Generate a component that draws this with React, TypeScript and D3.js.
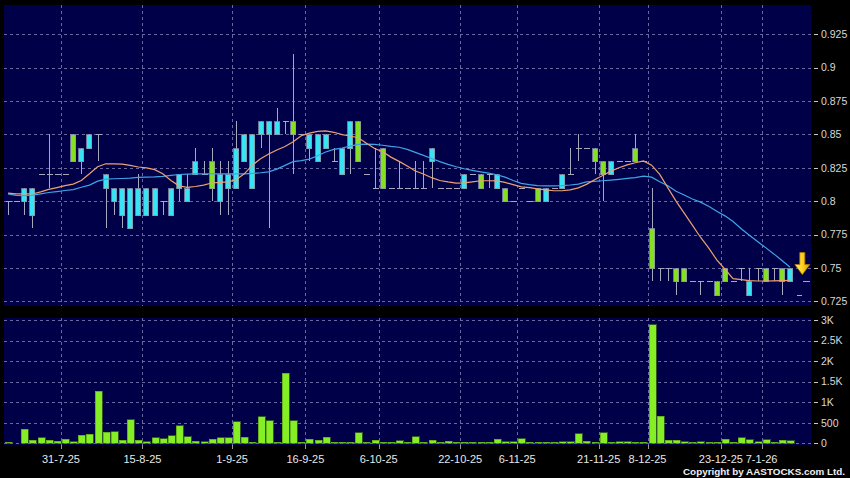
import React from "react";
import * as d3 from "d3";

const OPEN = [0.80,0.80,0.80,0.79,0.82,0.82,0.82,0.82,0.85,0.83,0.84,0.85,0.81,0.80,0.79,0.78,0.79,0.79,0.79,0.80,0.79,0.81,0.80,0.82,0.82,0.83,0.80,0.81,0.81,0.83,0.81,0.85,0.85,0.85,0.86,0.86,0.85,0.84,0.83,0.84,0.83,0.82,0.84,0.86,0.82,0.81,0.84,0.81,0.81,0.81,0.81,0.81,0.83,0.81,0.81,0.81,0.81,0.82,0.82,0.82,0.81,0.81,0.80,0.81,0.80,0.81,0.80,0.81,0.81,0.82,0.84,0.84,0.84,0.83,0.82,0.83,0.83,0.84,0.83,0.78,0.75,0.75,0.75,0.75,0.74,0.74,0.74,0.74,0.75,0.74,0.75,0.73,0.75,0.75,0.75,0.75,0.74];
const HIGH = [0.80,0.80,0.81,0.81,0.82,0.85,0.82,0.82,0.85,0.84,0.85,0.85,0.82,0.81,0.81,0.81,0.82,0.81,0.81,0.80,0.81,0.82,0.82,0.84,0.83,0.84,0.83,0.83,0.86,0.85,0.85,0.86,0.86,0.87,0.86,0.91,0.85,0.85,0.85,0.85,0.84,0.84,0.86,0.86,0.82,0.84,0.84,0.81,0.83,0.81,0.83,0.83,0.84,0.81,0.81,0.81,0.82,0.82,0.82,0.82,0.82,0.81,0.80,0.81,0.80,0.81,0.81,0.81,0.82,0.84,0.85,0.84,0.84,0.83,0.83,0.83,0.83,0.85,0.83,0.81,0.75,0.75,0.75,0.75,0.74,0.74,0.74,0.74,0.75,0.74,0.75,0.75,0.75,0.75,0.75,0.75,0.75];
const LOW = [0.79,0.80,0.79,0.78,0.82,0.81,0.82,0.82,0.83,0.82,0.84,0.83,0.78,0.79,0.78,0.78,0.79,0.79,0.79,0.79,0.79,0.80,0.80,0.82,0.82,0.80,0.79,0.79,0.81,0.83,0.81,0.84,0.78,0.85,0.85,0.82,0.85,0.83,0.83,0.84,0.83,0.82,0.82,0.83,0.82,0.81,0.81,0.81,0.81,0.81,0.81,0.81,0.81,0.81,0.81,0.81,0.81,0.82,0.81,0.81,0.81,0.80,0.80,0.81,0.80,0.80,0.80,0.81,0.81,0.82,0.83,0.84,0.82,0.80,0.82,0.83,0.83,0.83,0.83,0.74,0.74,0.74,0.73,0.74,0.74,0.73,0.74,0.73,0.74,0.74,0.74,0.73,0.74,0.74,0.74,0.73,0.74];
const CLOSE = [0.80,0.80,0.81,0.81,0.82,0.82,0.82,0.82,0.83,0.84,0.85,0.85,0.82,0.81,0.81,0.81,0.81,0.81,0.81,0.80,0.81,0.82,0.81,0.83,0.82,0.81,0.82,0.82,0.84,0.85,0.85,0.86,0.86,0.86,0.86,0.85,0.85,0.85,0.85,0.85,0.83,0.84,0.86,0.83,0.82,0.81,0.81,0.81,0.81,0.81,0.81,0.81,0.84,0.81,0.81,0.81,0.82,0.82,0.81,0.82,0.82,0.80,0.80,0.81,0.80,0.80,0.81,0.81,0.82,0.82,0.84,0.84,0.83,0.82,0.83,0.83,0.83,0.83,0.83,0.75,0.75,0.75,0.74,0.74,0.74,0.74,0.74,0.73,0.74,0.74,0.75,0.74,0.75,0.74,0.75,0.74,0.75];
const VOLUME = [30,0,340,75,130,80,50,100,35,195,220,1270,270,280,80,570,80,35,130,105,185,430,155,55,35,100,130,130,520,145,20,640,545,20,1700,545,5,100,75,145,20,20,5,260,20,80,20,5,65,5,165,15,80,10,50,10,20,5,15,10,100,35,35,105,15,5,15,5,35,35,230,50,15,260,5,35,35,10,10,2880,660,75,75,35,5,40,5,5,100,5,140,90,40,90,5,80,65];
const MA_SHORT = [0.806,0.8055,0.8054,0.8054,0.807,0.8088,0.8102,0.8117,0.8128,0.8155,0.8205,0.8258,0.828,0.828,0.8278,0.8268,0.8256,0.8249,0.8236,0.8205,0.8155,0.8115,0.8104,0.811,0.812,0.8136,0.8141,0.8145,0.816,0.8205,0.827,0.8318,0.8353,0.8383,0.841,0.8445,0.849,0.851,0.8523,0.8526,0.8516,0.8498,0.8488,0.8475,0.8434,0.8395,0.837,0.833,0.8298,0.8263,0.8226,0.8204,0.8176,0.8155,0.8144,0.8135,0.8137,0.8145,0.8153,0.8153,0.8152,0.8141,0.8124,0.8107,0.8102,0.8092,0.8084,0.8078,0.8078,0.8085,0.81,0.8126,0.816,0.8193,0.8225,0.825,0.8272,0.8288,0.8302,0.827,0.82,0.81,0.8,0.791,0.782,0.773,0.765,0.756,0.749,0.742,0.7412,0.7405,0.7402,0.7402,0.7403,0.7405,0.7407];
const MA_LONG = [0.8055,0.8043,0.8041,0.8046,0.8055,0.8065,0.8072,0.808,0.8087,0.8104,0.812,0.815,0.8165,0.8168,0.817,0.8173,0.8178,0.818,0.8182,0.8186,0.8193,0.82,0.8203,0.8204,0.8204,0.8204,0.8204,0.8204,0.8204,0.8204,0.8208,0.8213,0.822,0.824,0.8268,0.8296,0.8304,0.8315,0.834,0.8368,0.8388,0.8398,0.8413,0.8425,0.8428,0.8426,0.8419,0.841,0.8404,0.8388,0.8366,0.8343,0.832,0.8296,0.8276,0.8258,0.8243,0.8231,0.822,0.821,0.8198,0.818,0.8155,0.8133,0.8124,0.8117,0.8114,0.8114,0.8116,0.8121,0.8128,0.8145,0.8149,0.8153,0.8158,0.8164,0.8171,0.8177,0.8188,0.818,0.8146,0.8116,0.8074,0.8046,0.8016,0.7993,0.7962,0.7925,0.789,0.7848,0.7793,0.7745,0.7698,0.7652,0.7605,0.7555,0.7505];
const X_TICK_LABELS = ["31-7-25","15-8-25","1-9-25","16-9-25","6-10-25","22-10-25","6-11-25","21-11-25","8-12-25","23-12-25","7-1-26"];
const X_TICK_INDEX = [7,17,28,37,46,56,63,73,79,88,93];
const PRICE_TICKS = [0.725,0.75,0.775,0.8,0.825,0.85,0.875,0.9,0.925];
const PRICE_TICK_LABELS = ["0.725","0.75","0.775","0.8","0.825","0.85","0.875","0.9","0.925"];
const VOL_TICKS = [0,500,1000,1500,2000,2500,3000];
const VOL_TICK_LABELS = ["0","500","1K","1.5K","2K","2.5K","3K"];

const BG = "#000048";
const GRID = "#6868a0";
const UP = "#38e4f4";
const DOWN = "#86e022";
const WICK = "#a8a8bc";
const FONT = "'Liberation Sans', Arial, sans-serif";

export default function App() {
  const n = CLOSE.length;
  const x = d3.scaleLinear().domain([0, n - 1]).range([8, 790.1]);
  const yP = d3.scaleLinear().domain([0.725, 0.925]).range([301.3, 34.3]);
  const yV = d3.scaleLinear().domain([0, 3000]).range([443.3, 320]);
  const mainL = 4, mainR = 811, mainT = 5, mainB = 306;
  const volT = 318, volB = 445;

  const lineS = d3.line<number>().x((_, i) => x(i)).y((d) => yP(d));
  const crisp = (v: number) => Math.round(v) + 0.5;

  const last = n - 1;
  const ax = x(last + 1.5);
  const tipY = yP(0.745);
  const arrowPath = `M${ax - 2.5},${tipY - 22} L${ax + 2.5},${tipY - 22} L${ax + 2.5},${tipY - 10} L${ax + 7.5},${tipY - 10} L${ax},${tipY} L${ax - 7.5},${tipY - 10} L${ax - 2.5},${tipY - 10} Z`;

  return (
    <svg width={850} height={478} style={{ position: "absolute", left: 0, top: 0, display: "block" }} fontFamily={FONT}>
      <defs>
        <linearGradient id="arr" x1="0" x2="1" y1="0" y2="0">
          <stop offset="0" stopColor="#fff27a" />
          <stop offset="0.5" stopColor="#ffd21e" />
          <stop offset="1" stopColor="#e09a00" />
        </linearGradient>
      </defs>
      <rect x={0} y={0} width={850} height={478} fill="#000" />
      <rect x={mainL} y={mainT} width={mainR - mainL} height={mainB - mainT} fill={BG} />
      <rect x={mainL} y={volT} width={mainR - mainL} height={volB - volT} fill={BG} />

      <g stroke={GRID} strokeWidth={1} strokeDasharray="3,3" shapeRendering="crispEdges">
        {PRICE_TICKS.map((t, i) => (
          <line key={"hp" + i} x1={mainL} x2={mainR} y1={crisp(yP(t))} y2={crisp(yP(t))} />
        ))}
        {X_TICK_INDEX.map((t, i) => (
          <line key={"vp" + i} x1={crisp(x(t - 0.5))} x2={crisp(x(t - 0.5))} y1={mainT} y2={mainB} />
        ))}
        {VOL_TICKS.map((t, i) => (
          <line key={"hv" + i} x1={mainL} x2={mainR} y1={crisp(yV(t))} y2={crisp(yV(t))} />
        ))}
        {X_TICK_INDEX.map((t, i) => (
          <line key={"vv" + i} x1={crisp(x(t - 0.5))} x2={crisp(x(t - 0.5))} y1={volT} y2={volB} />
        ))}
      </g>

      <g stroke={WICK} strokeWidth={1} shapeRendering="crispEdges">
        {CLOSE.map((c, i) => {
          const cx = crisp(x(i));
          const els = [] as any[];
          if (HIGH[i] > LOW[i]) {
            els.push(<line key={"w" + i} x1={cx} x2={cx} y1={yP(HIGH[i])} y2={yP(LOW[i])} />);
          }
          if (OPEN[i] === c) {
            els.push(<line key={"d" + i} x1={cx - 3} x2={cx + 3} y1={crisp(yP(c))} y2={crisp(yP(c))} />);
          }
          return els;
        })}
      </g>

      <g shapeRendering="crispEdges">
        {CLOSE.map((c, i) => {
          const o = OPEN[i];
          if (o === c) return null;
          const top = yP(Math.max(o, c));
          const bot = yP(Math.min(o, c));
          const cx = Math.round(x(i));
          return (
            <rect key={"b" + i} x={cx - 2.5} y={Math.round(top) + 0.5} width={5} height={Math.round(bot) - Math.round(top)}
              fill={c > o ? UP : DOWN} stroke="#8a96a8" strokeWidth={0.8} />
          );
        })}
      </g>

      <path d={lineS(MA_LONG) || ""} fill="none" stroke="#3ea4e6" strokeWidth={1.2} />
      <path d={lineS(MA_SHORT) || ""} fill="none" stroke="#eea070" strokeWidth={1.2} />

      <g stroke={WICK} strokeWidth={1} shapeRendering="crispEdges">
        <line x1={x(last) + 13} x2={x(last) + 20} y1={crisp(yP(0.74))} y2={crisp(yP(0.74))} />
        <line x1={x(last) + 7} x2={x(last) + 12} y1={crisp(yP(0.73))} y2={crisp(yP(0.73))} />
      </g>
      <path d={arrowPath} fill="url(#arr)" stroke="#b07800" strokeWidth={0.8} />

      <g shapeRendering="crispEdges">
        {VOLUME.map((v, i) => {
          if (v <= 0) return null;
          const top = yV(v);
          const h = Math.max(1, yV(0) - top);
          return (
            <rect key={"v" + i} x={Math.round(x(i)) - 3} y={yV(0) - h} width={7} height={h}
              fill="#86ee24" stroke="#4e8e14" strokeWidth={0.6} />
          );
        })}
      </g>

      <g fontSize={10.5} fill="#d8d8d8">
        {PRICE_TICKS.map((t, i) => (
          <g key={"pl" + i}>
            <line x1={814} x2={818} y1={crisp(yP(t))} y2={crisp(yP(t))} stroke="#c8c8c8" shapeRendering="crispEdges" />
            <text x={821} y={yP(t)} dy="0.36em">{PRICE_TICK_LABELS[i]}</text>
          </g>
        ))}
        {VOL_TICKS.map((t, i) => (
          <g key={"vl" + i}>
            <line x1={814} x2={818} y1={crisp(yV(t))} y2={crisp(yV(t))} stroke="#c8c8c8" shapeRendering="crispEdges" />
            <text x={821} y={yV(t)} dy="0.36em">{VOL_TICK_LABELS[i]}</text>
          </g>
        ))}
      </g>

      <g fontSize={11} fill="#e8e8e8" textAnchor="middle">
        {X_TICK_INDEX.map((t, i) => (
          <g key={"xl" + i}>
            <line x1={crisp(x(t - 0.5))} x2={crisp(x(t - 0.5))} y1={445} y2={449} stroke="#9a9a9a" shapeRendering="crispEdges" />
            <text x={x(t - 0.5)} y={462.5}>{X_TICK_LABELS[i]}</text>
          </g>
        ))}
      </g>

      <text x={845} y={475} fontSize={9.5} fontWeight="bold" fill="#f0f0f0" textAnchor="end" textLength={162} lengthAdjust="spacingAndGlyphs">
        Copyright by AASTOCKS.com Ltd.
      </text>
    </svg>
  );
}
